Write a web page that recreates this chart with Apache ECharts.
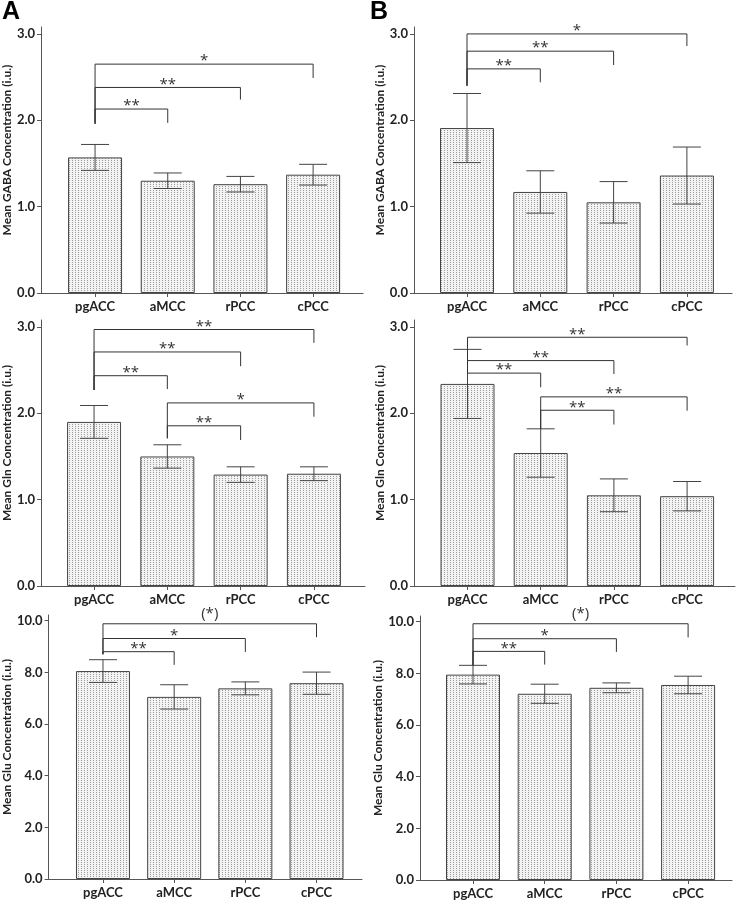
<!DOCTYPE html>
<html>
<head>
<meta charset="utf-8">
<script src="https://cdn.jsdelivr.net/npm/echarts@6/dist/echarts.min.js"></script>
<style>
  html, body { margin: 0; padding: 0; background: #fff; }
  #chart { width: 738px; height: 900px; }
</style>
</head>
<body>
<div id="chart"></div>
<script>
// regions on the x axis
const categories = ['pgACC', 'aMCC', 'rPCC', 'cPCC']

// means and error bars (i.u.)
const gabaA = [1.57, 1.30, 1.26, 1.37]
const gabaAErr = [0.15, 0.09, 0.09, 0.12]
const gabaB = [1.91, 1.17, 1.05, 1.36]
const gabaBErr = [0.40, 0.245, 0.24, 0.33]
const glnA = [1.90, 1.50, 1.29, 1.30]
const glnAErr = [0.19, 0.135, 0.09, 0.08]
const glnB = [2.34, 1.54, 1.05, 1.04]
const glnBErr = [0.40, 0.28, 0.19, 0.17]
const gluA = [8.05, 7.05, 7.38, 7.58]
const gluAErr = [0.44, 0.47, 0.25, 0.43]
const gluB = [7.95, 7.21, 7.44, 7.55]
const gluBErr = [0.36, 0.37, 0.19, 0.34]

// y tick labels
const ticks3 = [0, 1, 2, 3]
const ticks10 = [0, 2, 4, 6, 8, 10]

// significance brackets: [from, to, line height, right leg end, left leg end]
const gabaASig = [[1, 4, 2.65, 2.49, 1.96], [1, 3, 2.38, 2.24, 1.96], [1, 2, 2.13, 1.97, 1.96]]
const gabaASigText = ['*', '**', '**']
const gabaBSig = [[1, 4, 3.0, 2.86, 2.40], [1, 3, 2.80, 2.64, 2.40], [1, 2, 2.595, 2.44, 2.40]]
const gabaBSigText = ['*', '**', '**']
const glnASig = [[1, 4, 2.97, 2.815, 2.27], [1, 3, 2.71, 2.545, 2.27], [1, 2, 2.435, 2.28, 2.27],
  [2, 4, 2.12, 1.96, 1.71], [2, 3, 1.855, 1.69, 1.71]]
const glnASigText = ['**', '**', '**', '*', '**']
const glnBSig = [[1, 4, 2.88, 2.785, 2.75], [1, 3, 2.61, 2.455, 2.75], [1, 2, 2.465, 2.30, 2.75],
  [2, 4, 2.19, 2.03, 1.82], [2, 3, 2.035, 1.87, 1.82]]
const glnBSigText = ['**', '**', '**', '**', '**']
const gluASig = [[1, 4, 9.88, 9.36, 8.7], [1, 3, 9.31, 8.79, 8.7], [1, 2, 8.80, 8.29, 8.7]]
const gluASigText = ['(*)', '*', '**']
const gluBSig = [[1, 4, 9.92, 9.39, 8.31], [1, 3, 9.34, 8.83, 8.31], [1, 2, 8.85, 8.34, 8.31]]
const gluBSigText = ['(*)', '*', '**']

// stippled fill for the bars
const pat = document.createElement('canvas')
pat.width = 3
pat.height = 2
const pctx = pat.getContext('2d')
pctx.fillStyle = '#f3f3f3'
pctx.fillRect(0, 0, 3, 2)
pctx.fillStyle = '#9c9c9c'
pctx.fillRect(0, 0, 1, 1)

const FONT = 'Lato, "Open Sans", sans-serif'
const INK = '#222'

// panel layout (px): grid box, centre of first bar, spacing of bars
const panels = [
  { left: 41, top: 27, width: 322, height: 266, first: 95, step: 72.7, ymax: 3.08, ticks: ticks3, name: 'Mean GABA Concentration (i.u.)', mean: gabaA, err: gabaAErr, sig: gabaASig, sigText: gabaASigText },
  { left: 414, top: 27, width: 318, height: 266, first: 467, step: 73.3, ymax: 3.08, ticks: ticks3, name: 'Mean GABA Concentration (i.u.)', mean: gabaB, err: gabaBErr, sig: gabaBSig, sigText: gabaBSigText },
  { left: 41, top: 320, width: 324, height: 266, first: 94, step: 73.3, ymax: 3.08, ticks: ticks3, name: 'Mean Gln Concentration (i.u.)', mean: glnA, err: glnAErr, sig: glnASig, sigText: glnASigText },
  { left: 414, top: 320, width: 321, height: 266, first: 467.5, step: 73.2, ymax: 3.08, ticks: ticks3, name: 'Mean Gln Concentration (i.u.)', mean: glnB, err: glnBErr, sig: glnBSig, sigText: glnBSigText },
  { left: 45, top: 615, width: 317, height: 264, first: 100, step: 72, ymax: 10.22, ticks: ticks10, name: 'Mean Glu Concentration (i.u.)', mean: gluA, err: gluAErr, sig: gluASig, sigText: gluASigText },
  { left: 420, top: 616, width: 312, height: 264, first: 473, step: 71.7, ymax: 10.22, ticks: ticks10, name: 'Mean Glu Concentration (i.u.)', mean: gluB, err: gluBErr, sig: gluBSig, sigText: gluBSigText }
]

const grid = []
const xAxis = []
const yAxis = []
const series = []

panels.forEach((p, i) => {
  const xmin = 1 - (p.first - p.left) / p.step
  const xmax = xmin + p.width / p.step
  grid.push({ left: p.left, top: p.top, width: p.width, height: p.height })
  xAxis.push({
    type: 'value',
    gridIndex: i,
    min: xmin,
    max: xmax,
    splitLine: { show: false },
    axisLine: { lineStyle: { color: '#555', width: 1 } },
    axisTick: { customValues: [1, 2, 3, 4], length: 4, lineStyle: { color: '#555' } },
    axisLabel: {
      customValues: [1, 2, 3, 4],
      margin: 7,
      color: INK,
      fontFamily: FONT,
      fontWeight: 'bold',
      fontSize: 13,
      formatter: (v) => categories[Math.round(v) - 1]
    }
  })
  yAxis.push({
    type: 'value',
    gridIndex: i,
    min: 0,
    max: p.ymax,
    splitLine: { show: false },
    axisLine: { show: true, lineStyle: { color: '#555', width: 1 } },
    axisTick: { show: true, customValues: p.ticks, length: 4, lineStyle: { color: '#555' } },
    axisLabel: {
      customValues: p.ticks,
      margin: 6,
      color: INK,
      fontFamily: FONT,
      fontWeight: 'bold',
      fontSize: 13,
      formatter: (v) => v.toFixed(1)
    },
    name: p.name,
    nameLocation: 'middle',
    nameGap: 26,
    nameTextStyle: {
      color: INK,
      fontFamily: FONT,
      fontWeight: 'bold',
      fontSize: 12,
      padding: [0, 0, 0, 20]
    }
  })
  series.push({
    type: 'bar',
    xAxisIndex: i,
    yAxisIndex: i,
    barWidth: 54,
    itemStyle: {
      color: { image: pat, repeat: 'repeat' },
      borderColor: '#444',
      borderWidth: 1
    },
    data: p.mean.map((m, k) => [k + 1, m])
  })
  // error bars
  series.push({
    type: 'custom',
    xAxisIndex: i,
    yAxisIndex: i,
    z: 3,
    clip: false,
    encode: { x: 0, y: 1 },
    data: p.mean.map((m, k) => [k + 1, m, p.err[k]]),
    renderItem (params, api) {
      const x = api.value(0)
      const m = api.value(1)
      const e = api.value(2)
      const hi = api.coord([x, m + e])
      const lo = api.coord([x, m - e])
      const hw = 14
      const st = { stroke: '#444', lineWidth: 1 }
      return {
        type: 'group',
        children: [
          { type: 'line', shape: { x1: hi[0], y1: hi[1], x2: lo[0], y2: lo[1] }, style: st },
          { type: 'line', shape: { x1: hi[0] - hw, y1: hi[1], x2: hi[0] + hw, y2: hi[1] }, style: st },
          { type: 'line', shape: { x1: lo[0] - hw, y1: lo[1], x2: lo[0] + hw, y2: lo[1] }, style: st }
        ]
      }
    }
  })
  // significance brackets
  const labels = p.sigText
  series.push({
    type: 'custom',
    xAxisIndex: i,
    yAxisIndex: i,
    z: 4,
    clip: false,
    encode: { x: [0, 1], y: [2, 3, 4] },
    data: p.sig,
    renderItem (params, api) {
      const x1 = api.value(0)
      const x2 = api.value(1)
      const y = api.value(2)
      const a = api.coord([x1, y])
      const b = api.coord([x2, y])
      const r = api.coord([x2, api.value(3)])
      const l = api.coord([x1, api.value(4)])
      const st = { stroke: '#333', lineWidth: 1 }
      const txt = labels[params.dataIndex]
      const up = txt === '(*)' ? 10 : 3
      return {
        type: 'group',
        children: [
          { type: 'line', shape: { x1: a[0], y1: a[1], x2: b[0], y2: b[1] }, style: st },
          { type: 'line', shape: { x1: b[0], y1: b[1], x2: r[0], y2: r[1] }, style: st },
          { type: 'line', shape: { x1: a[0], y1: a[1], x2: l[0], y2: l[1] }, style: st },
          {
            type: 'text',
            x: (a[0] + b[0]) / 2,
            y: a[1] - up,
            style: {
              text: txt,
              fill: '#333',
              font: '15px "Open Sans", sans-serif',
              textAlign: 'center',
              textVerticalAlign: 'middle'
            }
          }
        ]
      }
    }
  })
})

const chart = echarts.init(document.getElementById('chart'))
chart.setOption({
  animation: false,
  title: [
    { text: 'A', left: 2, top: 0, padding: 0, textStyle: { fontFamily: 'Liberation Sans, Arial, sans-serif', fontWeight: 'bold', fontSize: 25, color: '#000' } },
    { text: 'B', left: 370, top: 0, padding: 0, textStyle: { fontFamily: 'Liberation Sans, Arial, sans-serif', fontWeight: 'bold', fontSize: 25, color: '#000' } }
  ],
  grid: grid,
  xAxis: xAxis,
  yAxis: yAxis,
  series: series
})
</script>
</body>
</html>
